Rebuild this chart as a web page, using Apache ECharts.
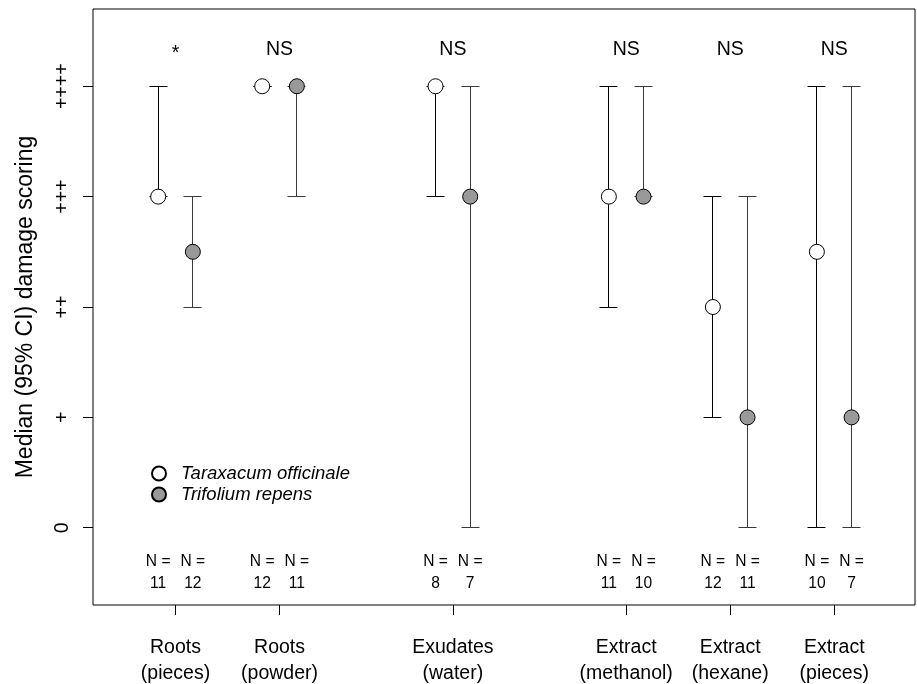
<!DOCTYPE html>
<html>
<head>
<meta charset="utf-8">
<script src="https://cdn.jsdelivr.net/npm/echarts@6/dist/echarts.min.js"></script>
<style>
html,body{margin:0;padding:0;background:#fff;}
#chart{width:917px;height:684px;}
</style>
</head>
<body>
<div id="chart"></div>
<script>
// ---- data ----
const categories = ['Roots\n(pieces)', 'Roots\n(powder)', 'Exudates\n(water)', 'Extract\n(methanol)', 'Extract\n(hexane)', 'Extract\n(pieces)'];
const groupCenters = [1.5, 4.5, 9.5, 14.5, 17.5, 20.5];
const significance = ['*', 'NS', 'NS', 'NS', 'NS', 'NS'];
const yTickValues = [0, 1, 2, 3, 4];
const yTickLabels = ['0', '+', '++', '+++', '++++'];

const taraxMedian = [3, 4, 4, 3, 2, 2.5];
const taraxLower  = [3, 4, 3, 2, 1, 0];
const taraxUpper  = [4, 4, 4, 4, 3, 4];
const taraxN      = [11, 12, 8, 11, 12, 10];

const trifMedian = [2.5, 4, 3, 3, 1, 1];
const trifLower  = [2, 3, 0, 3, 0, 0];
const trifUpper  = [3, 4, 4, 4, 3, 4];
const trifN      = [12, 11, 7, 10, 11, 7];

const seriesNames = ['Taraxacum officinale', 'Trifolium repens'];
const sigY = 4.33;
const nY = -0.41;

// ---- build ----
const FONT = 'Liberation Sans, Arial, Helvetica, sans-serif';
const taraxX = groupCenters.map(c => c - 0.5);
const trifX = groupCenters.map(c => c + 0.5);

function crisp(v) { return Math.round(v - 0.5) + 0.5; }

function errorSeries(xs, lo, hi, color) {
  return {
    type: 'custom',
    silent: true,
    z: 2,
    data: xs.map((x, i) => [x, lo[i], hi[i]]),
    renderItem: function (params, api) {
      const x = api.value(0);
      const pLo = api.coord([x, api.value(1)]);
      const pHi = api.coord([x, api.value(2)]);
      const cx = crisp(pLo[0]);
      const yLo = crisp(pLo[1]), yHi = crisp(pHi[1]);
      const hw = 9;
      const st = { stroke: color, lineWidth: 1 };
      return {
        type: 'group',
        children: [
          { type: 'line', shape: { x1: cx, y1: yLo, x2: cx, y2: yHi }, style: st },
          { type: 'line', shape: { x1: cx - hw, y1: yLo, x2: cx + hw, y2: yLo }, style: st },
          { type: 'line', shape: { x1: cx - hw, y1: yHi, x2: cx + hw, y2: yHi }, style: st }
        ]
      };
    }
  };
}

const chart = echarts.init(document.getElementById('chart'), null, { renderer: 'canvas' });
const option = {
  animation: false,
  backgroundColor: '#ffffff',
  grid: {
    left: 93, right: 2, top: 9, bottom: 79, containLabel: false, outerBoundsMode: 'none',
    show: true, borderColor: '#000', borderWidth: 1, backgroundColor: 'transparent'
  },
  legend: {
    left: 146, top: 459, orient: 'vertical',
    itemWidth: 14, itemHeight: 14, itemGap: 2,
    data: seriesNames,
    textStyle: { fontFamily: FONT, fontSize: 18.5, lineHeight: 17, fontStyle: 'italic', color: '#000', padding: [0, 0, 0, 10] }
  },
  xAxis: {
    type: 'value', min: -0.88, max: 22.83,
    splitLine: { show: false },
    axisLine: { show: false, onZero: false },
    axisTick: { show: true, length: 10, customValues: groupCenters, lineStyle: { color: '#000' } },
    axisLabel: {
      customValues: groupCenters,
      margin: 30,
      fontFamily: FONT, fontSize: 19.5, lineHeight: 26, color: '#000',
      formatter: function (v) {
        const i = groupCenters.findIndex(c => Math.abs(c - v) < 1e-6);
        return i >= 0 ? categories[i] : '';
      }
    }
  },
  yAxis: {
    type: 'value', min: -0.7, max: 4.7,
    name: 'Median (95% CI) damage scoring',
    nameLocation: 'middle', nameGap: 56,
    nameTextStyle: { fontFamily: FONT, fontSize: 23, color: '#000' },
    splitLine: { show: false },
    axisLine: { show: false, onZero: false },
    axisTick: { show: true, length: 10, customValues: yTickValues, lineStyle: { color: '#000' } },
    axisLabel: {
      customValues: yTickValues,
      rotate: 90, margin: 20,
      fontFamily: FONT, fontSize: 19.5, color: '#000',
      formatter: function (v) {
        const i = yTickValues.indexOf(Math.round(v));
        return i >= 0 ? yTickLabels[i] : '';
      }
    }
  },
  series: [
    errorSeries(taraxX, taraxLower, taraxUpper, '#000'),
    errorSeries(trifX, trifLower, trifUpper, '#3a3a3a'),
    {
      name: seriesNames[0], type: 'scatter', z: 5,
      symbol: 'circle', symbolSize: 15,
      itemStyle: { color: '#fff', borderColor: '#000', borderWidth: 1, opacity: 1 },
      data: taraxX.map((x, i) => [x, taraxMedian[i]])
    },
    {
      name: seriesNames[1], type: 'scatter', z: 5,
      symbol: 'circle', symbolSize: 15,
      itemStyle: { color: '#999999', borderColor: '#000', borderWidth: 1, opacity: 1 },
      data: trifX.map((x, i) => [x, trifMedian[i]])
    },
    {
      type: 'scatter', silent: true, symbolSize: 0, z: 6,
      itemStyle: { opacity: 1 },
      label: {
        show: true, position: 'inside', fontFamily: FONT, fontSize: 19.5, color: '#000', textBorderWidth: 0,
        formatter: p => p.name
      },
      data: groupCenters.map((c, i) => ({
        name: significance[i], value: [c, sigY],
        label: significance[i] === '*' ? { offset: [0, 4] } : undefined
      }))
    },
    {
      type: 'scatter', silent: true, symbolSize: 0, z: 6,
      itemStyle: { opacity: 1 },
      label: {
        show: true, position: 'inside', fontFamily: FONT, fontSize: 15.6, lineHeight: 22, color: '#000', align: 'center', textBorderWidth: 0,
        formatter: p => p.name
      },
      data: taraxX.map((x, i) => ({ name: 'N =\n' + taraxN[i], value: [x, nY] }))
        .concat(trifX.map((x, i) => ({ name: 'N =\n' + trifN[i], value: [x, nY] })))
    }
  ]
};
chart.setOption(option);
</script>
</body>
</html>
